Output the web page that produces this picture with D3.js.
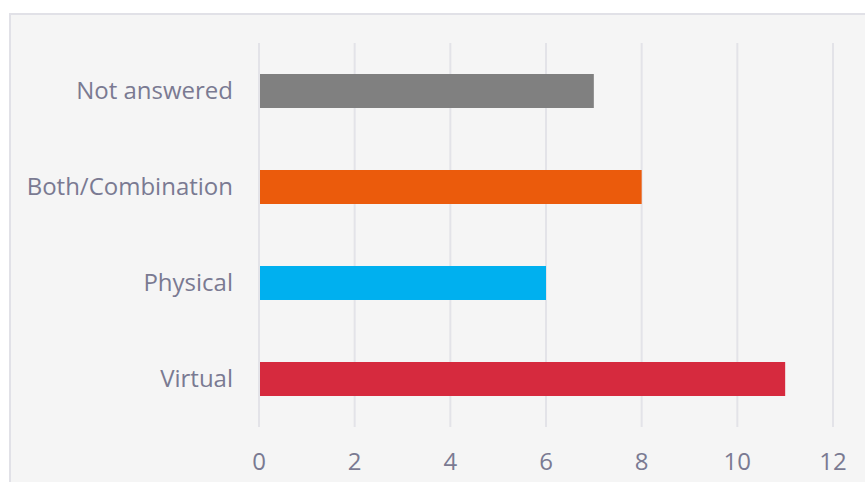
<!DOCTYPE html>
<html><head><meta charset="utf-8">
<script src="https://cdn.jsdelivr.net/npm/d3@7"></script>
<style>
html,body{margin:0;padding:0;background:#fff;}
svg{display:block;}
</style></head>
<body>
<script>
const categories = ["Not answered", "Both/Combination", "Physical", "Virtual"];
const values = [7, 8, 6, 11];
const colors = ["#808080", "#eb5b0c", "#00b0ef", "#d62a3e"];
const xTicks = [0, 2, 4, 6, 8, 10, 12];

const W = 865, H = 482;
const svg = d3.select("body").append("svg").attr("width", W).attr("height", H);

svg.append("rect").attr("x", 10).attr("y", 14).attr("width", W).attr("height", H)
  .attr("fill", "#f5f5f5").attr("stroke", "#e1e1e7").attr("stroke-width", 2);

const x = d3.scaleLinear().domain([0, 12]).range([259, 833]);
const y = d3.scaleBand().domain(categories).range([43, 427]).paddingInner(0.646).paddingOuter(0.323);

const textColor = "#7a7a92";
const font = "'Open Sans', sans-serif";

// gridlines
svg.append("g").selectAll("line").data(xTicks).join("line")
  .attr("x1", d => x(d)).attr("x2", d => x(d))
  .attr("y1", 43).attr("y2", 427)
  .attr("stroke", "#e3e3e8").attr("stroke-width", 2);

// bars
svg.append("g").selectAll("rect").data(categories).join("rect")
  .attr("x", x(0) + 1)
  .attr("y", d => y(d))
  .attr("width", (d, i) => x(values[i]) - x(0) - 1)
  .attr("height", y.bandwidth())
  .attr("fill", (d, i) => colors[i]);

// category labels
svg.append("g").selectAll("text").data(categories).join("text")
  .attr("x", 233)
  .attr("y", d => y(d) + y.bandwidth() / 2)
  .attr("dy", "0.35em")
  .attr("text-anchor", "end")
  .attr("font-family", font).attr("font-size", 24)
  .attr("fill", textColor)
  .text(d => d);

// x tick labels
svg.append("g").selectAll("text").data(xTicks).join("text")
  .attr("x", d => x(d))
  .attr("y", 462)
  .attr("dy", "0.35em")
  .attr("text-anchor", "middle")
  .attr("font-family", font).attr("font-size", 24)
  .attr("fill", textColor)
  .text(d => d);
</script>
</body></html>
